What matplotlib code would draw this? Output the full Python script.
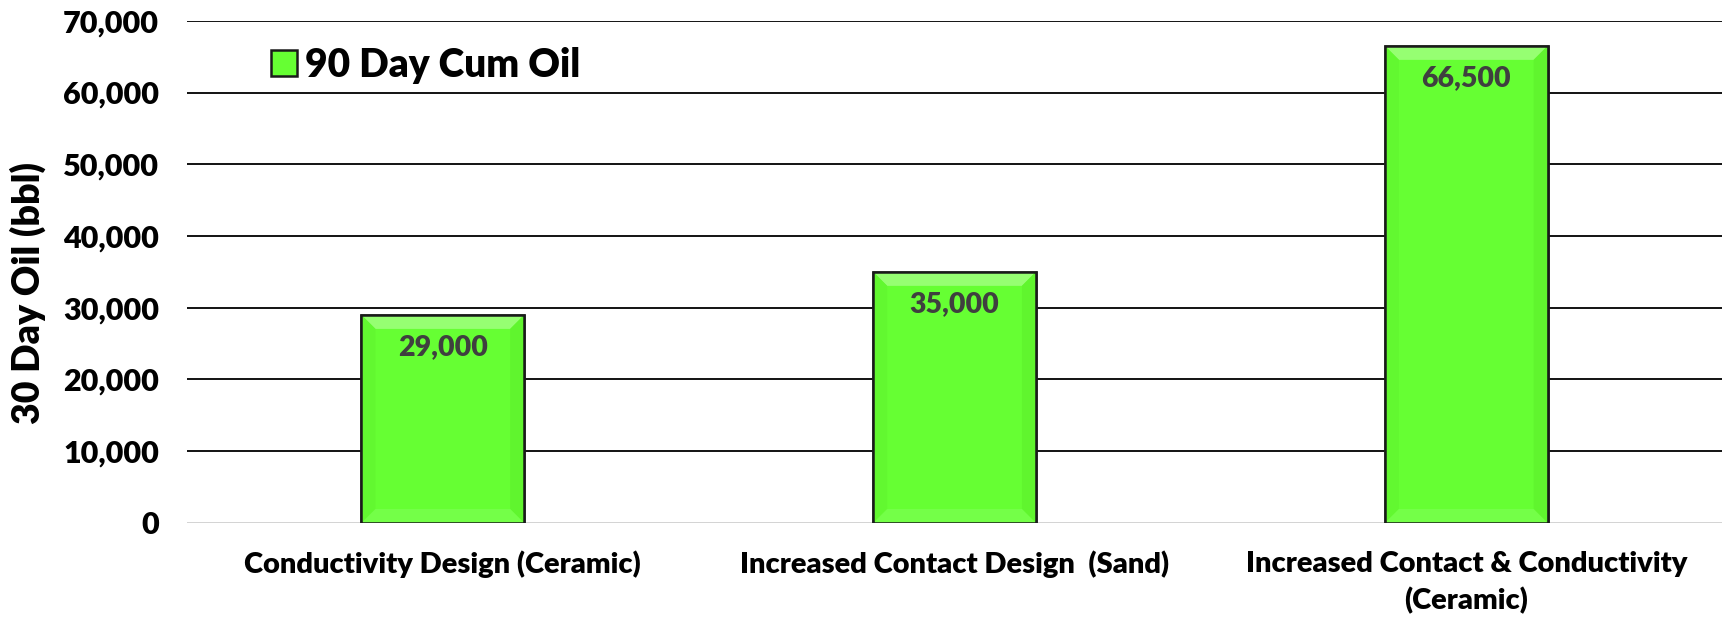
import numpy as np
import matplotlib
matplotlib.use('Agg')
import matplotlib.pyplot as plt
from matplotlib.patches import Polygon
from matplotlib.ticker import FuncFormatter

plt.rcParams['font.family'] = ['Lato', 'DejaVu Sans']
plt.rcParams['font.weight'] = 'heavy'

# 90 day cumulative oil per completion design
designs = ['Conductivity Design (Ceramic)',
           'Increased Contact Design  (Sand)',
           'Increased Contact & Conductivity\n(Ceramic)']
cum_oil = [29000, 35000, 66500]
yticks = [0, 10000, 20000, 30000, 40000, 50000, 60000, 70000]

green = '#66ff33'
W = 'heavy'

fig = plt.figure(figsize=(17.23, 6.2), dpi=100)
ax = fig.add_axes([0.1085, 0.1565, 0.891, 0.81])

x = np.arange(len(designs))
bars = ax.bar(x, cum_oil, width=0.318, color=green, edgecolor='#1a1a1a',
              linewidth=1.8, zorder=3, label='90 Day Cum Oil')

ax.set_xlim(-0.5, 2.5)
ax.set_ylim(0, 70000)
ax.set_yticks(yticks)
ax.yaxis.set_major_formatter(FuncFormatter(lambda v, p: f'{int(v):,}'))
ax.set_xticks(x)
ax.set_xticklabels(designs, fontsize=21, fontweight=W, linespacing=1.45)
for t in ax.get_yticklabels():
    t.set_fontweight(W)
ax.tick_params(axis='y', length=0, pad=20, labelsize=22)
ax.tick_params(axis='x', length=0, pad=20)
for s in ax.spines.values():
    s.set_visible(False)

# horizontal gridlines, the baseline is drawn light grey
for v in yticks:
    ax.axhline(v, color='#d0d0d0' if v == 0 else 'black', lw=1.3, zorder=1)

ax.set_ylabel('30 Day Oil (bbl)', fontsize=27, fontweight=W)
ax.yaxis.set_label_coords(-0.092, 0.457)

# bevel shading on each bar
fig.canvas.draw()
inv = ax.transData.inverted()
p0 = inv.transform((0, 0))
p1 = inv.transform((14, 14))
dx, dy = p1 - p0
for b in bars:
    bx, bw, bh = b.get_x(), b.get_width(), b.get_height()
    top = Polygon([(bx, bh), (bx + bw, bh), (bx + bw - dx, bh - dy), (bx + dx, bh - dy)],
                  closed=True, facecolor='#96ff72', edgecolor='none', zorder=3.5)
    left = Polygon([(bx, bh), (bx + dx, bh - dy), (bx + dx, dy), (bx, 0)],
                   closed=True, facecolor='#62f830', edgecolor='none', zorder=3.5)
    right = Polygon([(bx + bw, bh), (bx + bw - dx, bh - dy), (bx + bw - dx, dy), (bx + bw, 0)],
                    closed=True, facecolor='#60f52e', edgecolor='none', zorder=3.5)
    bottom = Polygon([(bx, 0), (bx + bw, 0), (bx + bw - dx, dy), (bx + dx, dy)],
                     closed=True, facecolor='#74ff48', edgecolor='none', zorder=3.5)
    for poly in (top, left, right, bottom):
        ax.add_patch(poly)
    # redraw outline over the shading
    ax.add_patch(plt.Rectangle((bx, 0), bw, bh, fill=False, edgecolor='#1a1a1a',
                               linewidth=1.8, zorder=4))
    ax.annotate(f'{int(bh):,}', (bx + bw / 2, bh), xytext=(0, -23),
                textcoords='offset points', ha='center', va='center',
                fontsize=20.5, fontweight=W, color='#3f3f3f', zorder=5)

leg = ax.legend(loc='upper left', bbox_to_anchor=(0.055, 0.948), frameon=False,
                prop={'size': 28, 'weight': W}, handlelength=0.65, handleheight=0.65,
                handletextpad=0.22, borderpad=0, borderaxespad=0)

fig.savefig('out.png', dpi=100)
